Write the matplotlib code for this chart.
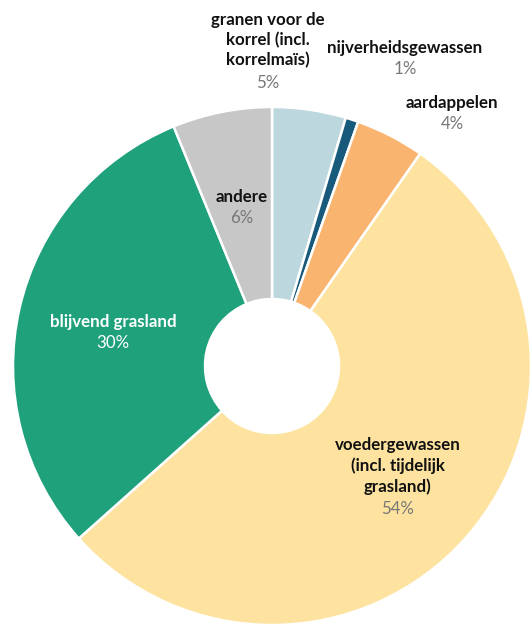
import matplotlib
matplotlib.use('Agg')
import matplotlib.pyplot as plt

plt.rcParams['font.family'] = ['Lato', 'DejaVu Sans']

# share of agricultural area (%)
categories = ['granen voor de\nkorrel (incl.\nkorrelmaïs)', 'nijverheidsgewassen', 'aardappelen',
              'voedergewassen\n(incl. tijdelijk\ngrasland)', 'blijvend grasland', 'andere']
values = [4.6, 0.8, 4.3, 53.7, 30.4, 6.2]
colors = ['#bdd7de', '#175a7b', '#f9b56f', '#fde39f', '#1fa17b', '#c7c7c7']

# label anchor (pixel coords, top-left origin) and text colour
label_pos = [(268, 40), (405, 48), (452, 103), (398, 466), (113, 322), (242, 197)]
label_col = ['#111111', '#111111', '#111111', '#111111', 'white', '#111111']
pct_col = ['#777777', '#777777', '#777777', '#777777', 'white', '#777777']

W, H = 531, 627
fig = plt.figure(figsize=(W / 100, H / 100), dpi=100)
ax = fig.add_axes([0, 0, 1, 1])

cx, cy, R, r_in = 272, 366, 259, 67
ax.pie(values, colors=colors, startangle=90, counterclock=False, radius=R,
       center=(cx, H - cy),
       wedgeprops=dict(width=R - r_in, edgecolor='white', linewidth=1.8))
ax.set_xlim(0, W)
ax.set_ylim(0, H)
ax.axis('off')

for cat, v, (px, py), c1, c2 in zip(categories, values, label_pos, label_col, pct_col):
    nl = cat.count('\n')
    ax.text(px, H - py, cat, ha='center', va='center', fontsize=12.2, fontweight='bold',
            color=c1, linespacing=1.3)
    ax.text(px, H - (py + 11 * nl + 21), f'{round(v)}%', ha='center', va='center',
            fontsize=12.2, color=c2)

fig.savefig('out.png', dpi=100)
